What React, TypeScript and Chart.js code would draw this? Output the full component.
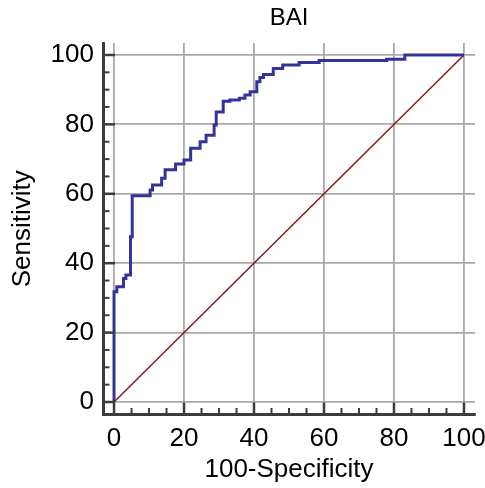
import { useEffect, useRef } from 'react';
import { Chart, registerables } from 'chart.js';

Chart.register(...registerables);

// ROC operating points (100-Specificity, Sensitivity), drawn as a step curve
const fprValues = [0, 0, 0.8, 2.7, 3.4, 4.7, 5.2, 10.3, 11.0, 13.6, 14.6, 17.6, 20.0, 21.9, 24.6, 26.3, 28.6, 29.2, 31.2, 33.1, 35.8, 37.4, 38.9, 40.8, 41.7, 42.7, 45.5, 48.2, 52.9, 58.6, 77.9, 83.1, 100];
const sensValues = [0, 31.8, 33.2, 35.6, 36.6, 47.6, 59.4, 61.1, 62.5, 64.5, 66.9, 68.6, 69.7, 73.1, 75.0, 76.9, 79.8, 83.6, 86.7, 87.0, 87.5, 88.5, 89.4, 92.3, 93.5, 94.4, 96.1, 97.1, 97.8, 98.4, 98.8, 100, 100];

// Reference (chance) line
const chanceX = [0, 100];
const chanceY = [0, 100];

const majorTicks = [0, 20, 40, 60, 80, 100];
const minorTicks = [5, 10, 15, 25, 30, 35, 45, 50, 55, 65, 70, 75, 85, 90, 95];

const FONT = 'Liberation Sans, Arial, Helvetica, sans-serif';
const AXIS_COLOR = '#3c3c3c';
const GRID_COLOR = '#a9a9a9';

// Tick marks pointing inward from the axis lines
const inwardTicks = {
  id: 'inwardTicks',
  afterDraw(chart: any) {
    const { ctx, chartArea, scales } = chart;
    const xs = scales.x;
    const ys = scales.y;
    ctx.save();
    ctx.strokeStyle = AXIS_COLOR;
    ctx.lineCap = 'butt';
    const draw = (values: number[], len: number, width: number) => {
      ctx.lineWidth = width;
      for (const v of values) {
        const px = xs.getPixelForValue(v);
        ctx.beginPath();
        ctx.moveTo(px, chartArea.bottom);
        ctx.lineTo(px, chartArea.bottom - len);
        ctx.stroke();
        const py = ys.getPixelForValue(v);
        ctx.beginPath();
        ctx.moveTo(chartArea.left, py);
        ctx.lineTo(chartArea.left + len, py);
        ctx.stroke();
      }
    };
    draw(majorTicks, 12, 2.5);
    draw(minorTicks, 6.5, 2);
    ctx.restore();
  },
};

export default function App() {
  const ref = useRef<HTMLCanvasElement>(null);

  useEffect(() => {
    const canvas = ref.current;
    if (!canvas) return;
    const chart = new Chart(canvas, {
      type: 'line',
      data: {
        datasets: [
          {
            label: 'BAI',
            data: fprValues.map((x, i) => ({ x, y: sensValues[i] })),
            borderColor: '#33339a',
            borderWidth: 3,
            stepped: 'before',
            pointRadius: 0,
            fill: false,
          },
          {
            label: 'Chance',
            data: chanceX.map((x, i) => ({ x, y: chanceY[i] })),
            borderColor: '#8b1616',
            borderWidth: 1.5,
            pointRadius: 0,
            fill: false,
          },
        ],
      },
      options: {
        responsive: false,
        animation: false,
        devicePixelRatio: 1,
        layout: { padding: { left: 0, right: 10, top: 0, bottom: 0 } },
        plugins: {
          legend: { display: false },
          tooltip: { enabled: false },
          title: {
            display: true,
            text: 'BAI',
            fullSize: false,
            color: '#000',
            font: { family: FONT, size: 24, weight: 'normal' },
            padding: { top: 4, bottom: 10.2 },
          },
        },
        scales: {
          x: {
            type: 'linear',
            min: -3.15,
            max: 103.15,
            afterFit: (s: any) => {
              s.height = 73.5;
              s.paddingLeft = 0;
              s.paddingRight = 0;
            },
            ticks: {
              stepSize: 20,
              includeBounds: false,
              color: '#000',
              padding: 9,
              font: { family: FONT, size: 26 },
              maxRotation: 0,
            },
            grid: { color: GRID_COLOR, lineWidth: 1.8, drawTicks: false },
            border: { display: true, color: AXIS_COLOR, width: 3 },
            title: {
              display: true,
              text: '100-Specificity',
              color: '#000',
              font: { family: FONT, size: 26 },
              padding: { top: 0, bottom: 2.4 },
            },
          },
          y: {
            type: 'linear',
            min: -3.6,
            max: 103.45,
            afterFit: (s: any) => {
              s.width = 103;
              s.paddingTop = 0;
              s.paddingBottom = 0;
            },
            ticks: {
              stepSize: 20,
              includeBounds: false,
              color: '#000',
              padding: 9,
              font: { family: FONT, size: 26 },
            },
            grid: { color: GRID_COLOR, lineWidth: 1.8, drawTicks: false },
            border: { display: true, color: AXIS_COLOR, width: 3 },
            title: {
              display: true,
              text: 'Sensitivity',
              color: '#000',
              font: { family: FONT, size: 26 },
              padding: { top: 7.7, bottom: 0 },
            },
          },
        },
      },
      plugins: [inwardTicks],
    } as any);
    return () => chart.destroy();
  }, []);

  return (
    <div style={{ position: 'fixed', left: 0, top: 0, width: 485, height: 488, background: '#fff' }}>
      <canvas ref={ref} width={485} height={488} style={{ display: 'block' }} />
    </div>
  );
}
